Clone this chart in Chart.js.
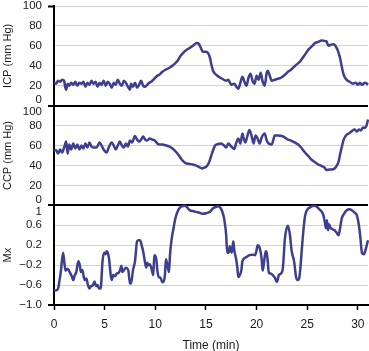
<!DOCTYPE html>
<html>
<head>
<meta charset="utf-8">
<script src="https://cdn.jsdelivr.net/npm/chart.js@4/dist/chart.umd.min.js"></script>
<style>
  html, body { margin: 0; padding: 0; background: #fff; }
  #wrap { width: 369px; height: 351px; }
</style>
</head>
<body>
<div id="wrap"><canvas id="chart" width="369" height="351"></canvas></div>
<script>
// time axis (min)
const timeTicks = [0, 5, 10, 15, 20, 25, 30];
const icpTicks = [0, 20, 40, 60, 80, 100];
const ccpTicks = [0, 20, 40, 60, 80, 100];
const mxTicks = [-1, -0.6, -0.2, 0.2, 0.6, 1];

// ICP (mm Hg)
const icpTime = [0, 0.2, 0.4, 0.6, 0.8, 1.0, 1.1, 1.2, 1.35, 1.5, 1.7, 1.9, 2.1, 2.3, 2.5, 2.7, 2.9, 3.1, 3.3, 3.5, 3.7, 3.9, 4.1, 4.3, 4.5, 4.7, 4.9, 5.1, 5.3, 5.5, 5.7, 5.9, 6.1, 6.3, 6.5, 6.7, 6.9, 7.1, 7.3, 7.5, 7.6, 7.8, 8.0, 8.2, 8.4, 8.6, 8.8, 9.0, 9.2, 9.4, 9.6, 9.9, 10.2, 10.4, 10.7, 11.0, 11.4, 11.8, 12.2, 12.5, 12.75, 13.1, 13.4, 13.7, 14.1, 14.3, 14.5, 14.7, 15.0, 15.2, 15.4, 15.5, 15.7, 15.9, 16.2, 16.6, 17.0, 17.2, 17.5, 17.8, 18.0, 18.2, 18.4, 18.6, 18.8, 19.0, 19.2, 19.4, 19.6, 19.8, 20.0, 20.2, 20.4, 20.6, 20.8, 21.0, 21.1, 21.3, 21.5, 21.8, 22.1, 22.4, 22.8, 23.1, 23.4, 23.8, 24.3, 24.7, 25.1, 25.5, 25.8, 26.1, 26.4, 26.7, 26.9, 27.1, 27.3, 27.6, 27.9, 28.1, 28.3, 28.4, 28.6, 28.8, 29.0, 29.2, 29.5, 29.8, 30.0, 30.2, 30.4, 30.7, 30.9, 31.0];
const icpValues = [23, 22, 25, 24, 26, 25, 19, 16, 22, 20, 23, 21, 24, 20, 23, 22, 24, 19, 23, 21, 25, 22, 24, 19, 23, 21, 25, 20, 24, 22, 18, 23, 21, 26, 22, 20, 25, 23, 19, 16, 22, 19, 23, 18, 21, 25, 20, 19, 21, 23, 24, 27, 30, 31, 34, 36, 38, 41, 45, 50, 53, 56, 58, 60, 63, 62, 58, 54, 54, 53, 48, 43, 35, 32, 29.5, 27, 25, 26, 21, 22, 19, 17, 23, 29, 24, 20, 28, 32, 25, 22, 30, 26, 33, 24, 20, 33, 35, 30, 25, 26, 27, 28, 31, 34, 36, 40, 44.5, 50, 56, 60, 63, 64, 65.5, 65, 64.5, 60, 61, 61.5, 58, 53, 45, 39.5, 31, 27, 25, 24, 22, 23, 21, 23, 21, 23, 22, 21];

// CCP (mm Hg)
const ccpTime = [0, 0.2, 0.4, 0.6, 0.8, 1.0, 1.2, 1.35, 1.5, 1.7, 1.9, 2.1, 2.3, 2.5, 2.7, 2.9, 3.1, 3.3, 3.5, 3.7, 3.9, 4.2, 4.5, 4.7, 4.9, 5.2, 5.4, 5.7, 5.9, 6.1, 6.3, 6.5, 6.7, 6.9, 7.1, 7.3, 7.5, 7.7, 8.0, 8.2, 8.4, 8.6, 8.8, 9.0, 9.2, 9.45, 9.7, 9.95, 10.2, 10.4, 10.7, 11.1, 11.4, 11.7, 12.1, 12.4, 12.6, 12.9, 13.1, 13.4, 13.7, 14.0, 14.3, 14.6, 14.9, 15.1, 15.3, 15.5, 15.7, 15.9, 16.2, 16.5, 16.8, 17.0, 17.2, 17.5, 17.8, 18.0, 18.2, 18.4, 18.6, 18.7, 18.9, 19.1, 19.3, 19.5, 19.7, 19.9, 20.1, 20.3, 20.5, 20.8, 21.0, 21.2, 21.5, 21.8, 22.1, 22.5, 22.8, 23.1, 23.4, 23.8, 24.1, 24.4, 24.7, 25.1, 25.4, 25.8, 26.1, 26.4, 26.7, 26.9, 27.2, 27.4, 27.7, 27.9, 28.1, 28.2, 28.4, 28.6, 28.9, 29.1, 29.4, 29.7, 29.9, 30.1, 30.3, 30.5, 30.7, 30.85, 31.0];
const ccpValues = [55, 55.5, 52, 56, 53, 58, 64, 52, 61, 56, 62, 57, 61, 56, 60, 57, 62, 58, 63, 59, 58, 58, 63, 60, 56, 53, 58, 63, 60, 56, 60, 64, 60, 58, 62, 59, 65, 63, 69.5, 66, 64, 66, 69, 66, 65, 67, 66, 65, 62, 61, 61, 60, 59, 57, 53, 49, 46, 43, 42, 41.5, 41, 40, 38.5, 37, 38, 39.5, 43, 49, 55, 60, 61.5, 62, 60, 58, 62, 59, 56.5, 63, 67, 62, 72, 68, 63, 70, 75.5, 70, 62, 70, 67, 62, 68, 72, 65, 62, 61, 70, 70, 69.5, 68, 66, 65, 63, 61, 58, 54, 49.5, 46, 43, 41, 39.5, 38, 35.5, 36, 36, 37, 39.5, 44, 49, 58, 66, 71, 72, 74.5, 76, 74, 76, 75, 78, 77.7, 80, 86];

// Mx
const mxTime = [0, 0.2, 0.4, 0.55, 0.65, 0.9, 1.05, 1.15, 1.3, 1.45, 1.6, 1.75, 1.9, 2.05, 2.2, 2.4, 2.55, 2.65, 2.8, 2.95, 3.05, 3.2, 3.35, 3.5, 3.65, 3.85, 4.0, 4.15, 4.3, 4.45, 4.6, 4.8, 4.95, 5.1, 5.2, 5.35, 5.45, 5.6, 5.7, 5.85, 6.0, 6.2, 6.4, 6.55, 6.65, 6.75, 6.9, 7.1, 7.25, 7.35, 7.5, 7.6, 7.8, 8.0, 8.2, 8.35, 8.5, 8.65, 8.8, 8.95, 9.1, 9.2, 9.3, 9.45, 9.6, 9.8, 9.9, 10.1, 10.2, 10.35, 10.5, 10.7, 10.8, 10.95, 11.05, 11.2, 11.35, 11.45, 11.6, 11.8, 12.0, 12.3, 12.6, 12.9, 13.1, 13.4, 13.8, 14.2, 14.7, 15.0, 15.4, 15.7, 16.0, 16.2, 16.5, 16.7, 16.8, 17.0, 17.1, 17.25, 17.35, 17.45, 17.55, 17.7, 17.8, 18.0, 18.1, 18.2, 18.35, 18.5, 18.6, 18.9, 19.3, 19.6, 19.85, 20.0, 20.1, 20.3, 20.5, 20.6, 20.7, 20.9, 21.0, 21.1, 21.2, 21.4, 21.6, 21.8, 22.0, 22.2, 22.4, 22.6, 22.8, 23.1, 23.3, 23.45, 23.7, 23.9, 24.05, 24.2, 24.35, 24.45, 24.8, 25.3, 25.7, 26.0, 26.2, 26.4, 26.6, 26.75, 26.85, 26.95, 27.05, 27.15, 27.3, 27.5, 27.7, 27.9, 28.1, 28.25, 28.4, 28.6, 28.9, 29.2, 29.4, 29.7, 29.9, 30.1, 30.25, 30.4, 30.6, 30.75, 31.0];
const mxValues = [-0.7, -0.71, -0.67, -0.5, -0.37, 0.05, -0.2, -0.31, -0.28, -0.3, -0.36, -0.42, -0.5, -0.4, -0.34, -0.12, -0.2, -0.34, -0.3, -0.45, -0.5, -0.47, -0.6, -0.67, -0.62, -0.6, -0.53, -0.62, -0.6, -0.67, -0.67, -0.1, 0.05, 0.02, 0.08, 0.02, -0.1, -0.4, -0.5, -0.4, -0.42, -0.37, -0.35, -0.28, -0.21, -0.34, -0.3, -0.25, -0.27, -0.32, -0.57, -0.57, -0.3, -0.12, 0.28, 0.3, 0.3, 0.2, 0.08, -0.1, -0.25, -0.15, -0.2, -0.18, -0.25, -0.4, 0.0, -0.08, -0.3, -0.44, -0.45, -0.54, -0.54, -0.4, -0.08, -0.2, -0.34, 0.0, 0.3, 0.54, 0.75, 0.92, 0.98, 0.99, 0.97, 0.9, 0.88, 0.86, 0.83, 0.84, 0.87, 0.94, 0.97, 0.98, 0.93, 0.82, 0.73, 0.4, 0.05, 0.05, 0.18, 0.1, 0.05, 0.28, 0.1, -0.1, -0.25, -0.44, -0.4, -0.3, -0.12, -0.05, 0.0, 0.01, 0.0, 0.1, 0.2, 0.15, -0.08, -0.31, -0.2, 0.08, 0.05, -0.12, -0.34, -0.37, -0.4, -0.45, -0.54, -0.4, -0.37, -0.25, 0.34, 0.59, 0.4, 0.1, -0.12, -0.44, -0.5, -0.47, -0.2, 0.08, 0.8, 0.96, 0.99, 0.96, 0.92, 0.88, 0.8, 0.65, 0.54, 0.7, 0.5, 0.62, 0.55, 0.52, 0.5, 0.45, 0.4, 0.55, 0.73, 0.82, 0.9, 0.92, 0.9, 0.85, 0.8, 0.6, 0.35, 0.05, 0.02, 0.1, 0.3];

const lineColor = "#3d3e8e";
const fontFamily = "'Liberation Sans', Arial, Helvetica, sans-serif";
const textColor = "#1a1a1a";

const toPoints = (xs, ys) => xs.map((x, i) => ({ x, y: ys[i] }));

// labels that sit on a panel boundary get nudged off the black line
const shiftedLabels = {
  yICP: { 0: -6 },
  yCCP: { 100: 6, 0: -6 },
  yMx: { 1: 6 },
};

function fmtMx(v) {
  if (v === 1) return "1";
  const s = Math.abs(v).toFixed(1);
  return v < 0 ? "\u2212" + s : s;
}

function yScale(id, ticks, min, max, title, fmt) {
  const edge = (v) => v === min || v === max;
  // the very top line of the ICP panel is a plain grid line
  const black = (v) => edge(v) && !(id === "yICP" && v === max);
  return {
    type: "linear",
    position: "left",
    stack: "panels",
    stackWeight: 1,
    min,
    max,
    afterBuildTicks: (scale) => {
      scale.ticks = ticks.map((v) => ({ value: v }));
    },
    afterFit: (scale) => {
      scale.width = 54;
      scale.paddingTop = 0;
      scale.paddingBottom = 0;
    },
    border: { color: "#000", width: 2 },
    grid: {
      color: (ctx) => (black(ctx.tick && ctx.tick.value) ? "#000" : "#d2d2d2"),
      lineWidth: (ctx) => (black(ctx.tick && ctx.tick.value) ? 2 : 1),
      tickColor: (ctx) => (edge(ctx.tick && ctx.tick.value) ? "#000" : "rgba(0,0,0,0)"),
      tickWidth: 2,
      tickLength: 6,
    },
    ticks: {
      autoSkip: false,
      padding: 6,
      color: textColor,
      font: { family: fontFamily, size: 11.5 },
      callback: (v) => (shiftedLabels[id][v] !== undefined ? "" : fmt(v)),
    },
    title: {
      display: true,
      text: title,
      color: textColor,
      font: { family: fontFamily, size: 11 },
      padding: { top: 1, bottom: 0 },
    },
  };
}

const boundaryLabels = {
  id: "boundaryLabels",
  afterDraw(chart) {
    const ctx = chart.ctx;
    ctx.save();
    ctx.fillStyle = textColor;
    ctx.font = "11.5px " + fontFamily;
    ctx.textAlign = "right";
    ctx.textBaseline = "middle";
    Object.keys(shiftedLabels).forEach((id) => {
      const scale = chart.scales[id];
      const fmt = id === "yMx" ? fmtMx : (v) => String(v);
      Object.keys(shiftedLabels[id]).forEach((key) => {
        const v = Number(key);
        const y = scale.getPixelForValue(v) + shiftedLabels[id][key];
        ctx.fillText(fmt(v), scale.right - 12, y);
      });
    });
    ctx.restore();
  },
};

new Chart(document.getElementById("chart"), {
  type: "line",
  data: {
    datasets: [
      { label: "Mx", data: toPoints(mxTime, mxValues), yAxisID: "yMx" },
      { label: "CCP", data: toPoints(ccpTime, ccpValues), yAxisID: "yCCP" },
      { label: "ICP", data: toPoints(icpTime, icpValues), yAxisID: "yICP" },
    ].map((d) => ({
      ...d,
      borderColor: lineColor,
      borderWidth: 2.5,
      pointRadius: 0,
      cubicInterpolationMode: "monotone",
      fill: false,
      clip: false,
    })),
  },
  options: {
    responsive: false,
    animation: false,
    layout: { padding: { top: 6, right: 1, left: 0, bottom: 0 } },
    plugins: { legend: { display: false }, tooltip: { enabled: false } },
    scales: {
      x: {
        type: "linear",
        min: 0,
        max: 31,
        afterBuildTicks: (scale) => {
          scale.ticks = timeTicks.map((v) => ({ value: v }));
        },
        afterFit: (scale) => {
          scale.height = 46;
          scale.paddingLeft = 0;
          scale.paddingRight = 0;
        },
        border: { color: "#000", width: 2 },
        grid: { drawOnChartArea: false, color: "#000", tickLength: 5, tickWidth: 1.5 },
        ticks: {
          autoSkip: false,
          maxRotation: 0,
          padding: 7,
          color: textColor,
          font: { family: fontFamily, size: 12 },
        },
        title: {
          display: true,
          text: "Time (min)",
          color: textColor,
          font: { family: fontFamily, size: 12 },
          padding: { top: 0, bottom: -2 },
        },
      },
      yMx: yScale("yMx", mxTicks, -1, 1, "Mx", fmtMx),
      yCCP: yScale("yCCP", ccpTicks, 0, 100, "CCP (mm Hg)", (v) => String(v)),
      yICP: yScale("yICP", icpTicks, 0, 100, "ICP (mm Hg)", (v) => String(v)),
    },
  },
  plugins: [boundaryLabels],
});
</script>
</body>
</html>
